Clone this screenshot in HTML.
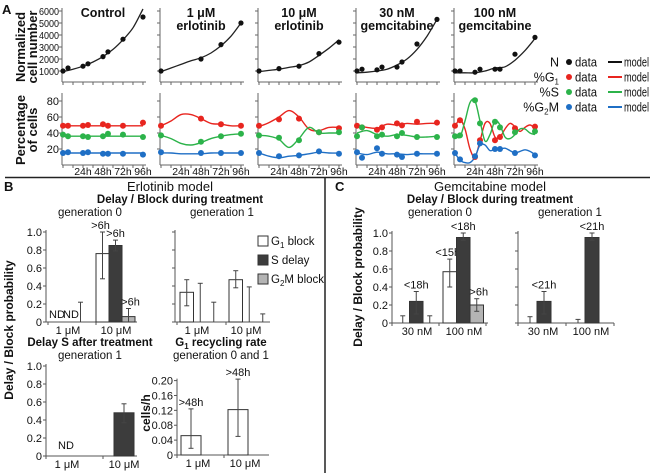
<!DOCTYPE html>
<html><head><meta charset="utf-8">
<style>
html,body{margin:0;padding:0;background:#fff;}
svg{display:block;font-family:"Liberation Sans",Arial,sans-serif;}
</style></head>
<body>
<svg id="fig" width="650" height="473" viewBox="0 0 650 473" xmlns="http://www.w3.org/2000/svg"></svg>
<script>
// ---------- Panel A data ----------
const panelTitles1 = ["Control","1 \u03bcM","10 \u03bcM","30 nM","100 nM"];
const panelTitles2 = ["","erlotinib","erlotinib","gemcitabine","gemcitabine"];
const nTicks = [1000,2000,3000,4000,5000,6000];
const pTicks = [20,40,60,80];
const hourLabels = ["24h","48h","72h","96h"];
const hourTicks = [24,48,72,96];
const modelT8 = [0,12,24,36,48,60,72,84,96];
const modelT16 = [0,6,12,18,24,30,36,42,48,54,60,66,72,78,84,90,96];
// N data
const nTimes = [[0,6,24,30,48,54,72,96],[0,48,72,96],[0,24,48,72,96],[0,6,24,30,48,54,72,96],[0,6,24,30,48,54,72,96]];
const nData = [[1000,1250,1400,1600,2200,2600,3650,5500],[1000,2000,3200,5000],[1000,1200,1400,2450,3400],[1000,1150,1100,1330,1330,1750,3250,5300],[1000,1000,900,1150,1150,1150,2400,3800]];
const nModel = [[950,1150,1400,1750,2200,2800,3600,4600,6200],[950,1250,1550,1850,2100,2500,3100,3900,5000],[950,1050,1150,1300,1450,1750,2300,2900,3600],[850,900,1000,1150,1500,2000,2800,3900,5300],[850,850,850,1000,1250,1350,1900,2700,3700]];
// phase data
const pTimes = [[0,6,24,30,48,54,72,96],[0,48,72,96],[0,24,48,72,96],[0,6,24,30,48,54,72,96],[0,6,24,30,48,54,72,96]];
const g1Data = [[49,49,49,50,51,49,49,53],[49,58,51,49],[49,57,58,41,46],[49,47,44,47,52,49.5,54,53],[49,56,10,31,31,35,46,48]];
const sData = [[38,36,36,35,36,39,38,35],[37,29,36,39],[37,34,31,41,41],[36,47,36,38,36,40,35,35],[36,37,81,52,54,47,41,42]];
const g2Data = [[15,16,15,16,14,14,14,13],[16,15,15,15],[15,11,12,17,14],[16,9,21,14,13,10,14,14],[15,7,11,27,20,20,15,12]];
const g1Model = [[49,49,49,49,49,49,49,49,49],[49,55,63,63,58,52,51,49,49],[48,53,60,68,60,45,43,47,47],[50,47,46,51,50,52,51,52,52],[48,57,45,20,10,30,52,52,35,35,45,52,48,42,47,50,46]];
const sModel = [[36,36,36,36,36,36,36,36,36],[37,33,27,25,28,33,36,38,39],[37,36,32,22,33,47,40,40,40],[40,43,38,36,38,37,35,35,36],[37,35,55,78,80,55,30,38,55,50,35,33,38,45,45,40,38]];
const g2Model = [[15,15,15,15,15,15,15,15,15],[15,15,14,14,14,15,15,15,15],[15,11,9,11,12,14,16,15,15],[15,13,16,14,14,13,14,14,14],[15,6,3,3,10,25,25,18,20,20,21,18,15,17,19,17,13]];

// ---------- Panel B data ----------
const bGroups = ["1 \u03bcM","10 \u03bcM"];
const bG0G1 = [0,0.76], bG0G1lo=[0,0.48], bG0G1hi=[0,1.0];
const bG0S = [0,0.85], bG0Slo=[0,0.79], bG0Shi=[0,0.91];
const bG0G2 = [0,0.06], bG0G2lo=[0,0], bG0G2hi=[0.22,0.15];
const bG1G1 = [0.33,0.47], bG1G1lo=[0.18,0.38], bG1G1hi=[0.47,0.57];
const bG1S = [0,0], bG1Slo=[0,0], bG1Shi=[0.43,0.39];
const bG1G2 = [0,0], bG1G2lo=[0,0], bG1G2hi=[0.22,0.09];
const bDelayS = [0,0.48], bDelaySlo=[0,0.37], bDelayShi=[0,0.58];
const bRecyc = [0.052,0.122], bRecycLo=[0.018,0.05], bRecycHi=[0.124,0.204];
const probTicks = [0,0.2,0.4,0.6,0.8,1.0];
const recycTicks = [0,0.04,0.08,0.12,0.16,0.20];
// ---------- Panel C data ----------
const cGroups = ["30 nM","100 nM"];
const cG0G1 = [0,0.57], cG0G1lo=[0,0.40], cG0G1hi=[0.08,0.71];
const cG0S = [0.24,0.95], cG0Slo=[0.10,0.92], cG0Shi=[0.35,1.0];
const cG0G2 = [0,0.20], cG0G2lo=[0,0.13], cG0G2hi=[0.08,0.27];
const cG1G1 = [0,0], cG1G1lo=[0,0], cG1G1hi=[0.07,0.04];
const cG1S = [0.24,0.95], cG1Slo=[0.10,0.92], cG1Shi=[0.35,1.0];

const svg = document.getElementById('fig');
const NS = "http://www.w3.org/2000/svg";
function mk(tag, attrs, name, parent){
  const el = document.createElementNS(NS, tag);
  for (const k in attrs) el.setAttribute(k, attrs[k]);
  
  
  (parent||svg).appendChild(el);
  return el;
}
function line(x1,y1,x2,y2,name,stroke,w,p){ return mk('line',{x1:x1,y1:y1,x2:x2,y2:y2,stroke:stroke||'#444','stroke-width':w||1},name,p); }
function txt(x,y,s,name,opt,p){
  opt=opt||{};
  const t = mk('text',{x:x,y:y,'font-size':opt.size||11,'text-anchor':opt.anchor||'middle','font-weight':opt.bold?'bold':'normal',fill:opt.fill||'#111'},name,p);
  if(opt.len){ t.setAttribute('textLength',opt.len); t.setAttribute('lengthAdjust','spacingAndGlyphs'); }
  if(opt.rot) t.setAttribute('transform','rotate(-90 '+x+' '+y+')');
  if(opt.html) t.innerHTML = s; else t.textContent = s;
  return t;
}
function smooth(pts){
  let d = 'M'+pts[0][0]+','+pts[0][1];
  for(let i=0;i<pts.length-1;i++){
    const p0=pts[Math.max(i-1,0)],p1=pts[i],p2=pts[i+1],p3=pts[Math.min(i+2,pts.length-1)];
    const c1x=p1[0]+(p2[0]-p0[0])/6,c1y=p1[1]+(p2[1]-p0[1])/6;
    const c2x=p2[0]-(p3[0]-p1[0])/6,c2y=p2[1]-(p3[1]-p1[1])/6;
    d+=' C'+c1x.toFixed(1)+','+c1y.toFixed(1)+' '+c2x.toFixed(1)+','+c2y.toFixed(1)+' '+p2[0].toFixed(1)+','+p2[1].toFixed(1);
  }
  return d;
}

// ---------- Panel A ----------
txt(2,14,'A','panel-a-label',{size:13,bold:true,anchor:'start'});
const axX = [62,160,258,356,454];
const RED='#e8251f', GRN='#2cb34a', BLU='#1f6fc5';
function xT(i,t){ return axX[i]+1+t*0.833; }
function yN(v){ return 83 - v*0.012; }
function yP(v){ return 165 - v*0.8; }
for(let i=0;i<5;i++){
  const g = mk('g',{},'panel-a-'+i);
  txt(axX[i]+41,17,panelTitles1[i],'panel-title',{size:12.5,bold:true},g);
  if(panelTitles2[i]) txt(axX[i]+41,30,panelTitles2[i],'panel-subtitle',{size:12.5,bold:true},g);
  line(axX[i],8,axX[i],82,'n-y-axis','#666',1,g);
  line(axX[i],82,axX[i]+84,82,'n-x-axis','#666',1,g);
  nTicks.forEach(v=>{ line(axX[i]-3,yN(v),axX[i],yN(v),'n-y-tick','#666',1,g); if(i===0) txt(59,yN(v)+4,String(v),'n-tick-label',{size:10.5,anchor:'end',len:20},g); });
  line(axX[i],93,axX[i],165,'p-y-axis','#666',1,g);
  line(axX[i],165,axX[i]+84,165,'p-x-axis','#666',1,g);
  pTicks.forEach(v=>{ line(axX[i]-3,yP(v),axX[i],yP(v),'p-y-tick','#666',1,g); if(i===0) txt(59,yP(v)+4,String(v),'p-tick-label',{size:11,anchor:'end'},g); });
  for(let t=0;t<=96;t+=12){ line(xT(i,t),82,xT(i,t),85,'n-x-tick','#666',1,g); line(xT(i,t),165,xT(i,t),168,'p-x-tick','#666',1,g); }
  hourTicks.forEach((t,k)=>{ txt(xT(i,t),175,hourLabels[k],'hour-label',{size:10.5},g); });
  const mt = nModel[i].length===9?modelT8:modelT16;
  mk('path',{d:smooth(nModel[i].map((v,k)=>[xT(i,mt[k]),Math.max(yN(v),9)])),fill:'none',stroke:'#222','stroke-width':1.3},'n-model-line',g);
  nData[i].forEach((v,k)=>{ mk('circle',{cx:xT(i,nTimes[i][k]),cy:yN(v),r:2.6,fill:'#111'},'n-data-point',g); });
  [[g1Model,RED,'g1'],[sModel,GRN,'s'],[g2Model,BLU,'g2m']].forEach(([M,c,nm])=>{
    const m = M[i], tt = m.length===9?modelT8:modelT16;
    mk('path',{d:smooth(m.map((v,k)=>[xT(i,tt[k]),yP(v)])),fill:'none',stroke:c,'stroke-width':1.4},nm+'-model-line',g);
  });
  [[g1Data,RED,'g1'],[sData,GRN,'s'],[g2Data,BLU,'g2m']].forEach(([D,c,nm])=>{
    D[i].forEach((v,k)=>{ mk('circle',{cx:xT(i,pTimes[i][k]),cy:yP(v),r:3,fill:c},nm+'-data-point',g); });
  });
}
txt(25,47,'Normalized','n-y-title-1',{size:13,bold:true,rot:true});
txt(37,47,'cell number','n-y-title-2',{size:13,bold:true,rot:true});
txt(25,130,'Percentage','p-y-title-1',{size:13,bold:true,rot:true});
txt(37,130,'of cells','p-y-title-2',{size:13,bold:true,rot:true});
// legend
const legLabels = ['N','%G<tspan font-size="8" dy="3">1</tspan>','%S','%G<tspan font-size="8" dy="3">2</tspan><tspan dy="-3">M</tspan>'];
const legColors = ['#111',RED,GRN,BLU];
const legY = [62,77,92,107];
legLabels.forEach((l,k)=>{
  const g = mk('g',{},'legend-entry');
  txt(559,legY[k]+4.5,l,'legend-label',{size:12.5,anchor:'end',html:true},g);
  mk('circle',{cx:569,cy:legY[k],r:3,fill:legColors[k]},'legend-dot',g);
  txt(575,legY[k]+4.5,'data','legend-data-text',{size:12.5,anchor:'start',len:22},g);
  line(608,legY[k],622,legY[k],'legend-line',legColors[k],2,g);
  txt(624,legY[k]+4.5,'model','legend-model-text',{size:12.5,anchor:'start',len:25},g);
});
line(5,177.5,650,177.5,'horizontal-divider','#222',1.5);
line(325,178,325,473,'vertical-divider','#222',1.5);

// ---------- bar chart helper ----------
const FILL = {w:'#ffffff',d:'#3c3c3c',g:'#b4b4b4'};
function barChart(c){
  const g = mk('g',{},c.name);
  const y = v => c.y0 - v*c.scale;
  line(c.ax,y(c.ticks[c.ticks.length-1])-2,c.ax,c.y0,'y-axis','#555',1,g);
  line(c.ax,c.y0,c.ax+c.width,c.y0,'x-axis','#555',1,g);
  c.ticks.forEach(t=>{ line(c.ax-3,y(t),c.ax,y(t),'y-tick','#555',1,g); if(c.labels) txt(c.ax-4,y(t)+4,c.fmt(t),'y-tick-label',{size:11,anchor:'end'},g); });
  for(let k=0;k<=c.groups.length;k++){ const x=c.ax+c.tickPad+k*c.gap; if(x<=c.ax+c.width) line(x,c.y0,x,c.y0+3,'x-tick','#555',1,g); }
  c.groups.forEach((gn,k)=>{ txt(c.ax+c.labPad+k*c.gap,c.y0+12,gn,'x-tick-label',{size:11},g); });
  c.series.forEach((s,si)=>{
    s.v.forEach((v,k)=>{
      const x = c.ax+c.pad+k*c.gap+si*c.bw;
      if(v>0) mk('rect',{x:x,y:y(v),width:c.bw,height:v*c.scale,fill:FILL[s.f],stroke:'#333','stroke-width':1},'bar-'+s.n,g);
      const cx = x+c.bw/2;
      if(s.hi[k]>s.lo[k]){
        line(cx,y(s.lo[k]),cx,y(s.hi[k]),'error-bar','#444',1,g);
        line(cx-2.5,y(s.hi[k]),cx+2.5,y(s.hi[k]),'error-cap','#444',1,g);
        if(s.lo[k]>0) line(cx-2.5,y(s.lo[k]),cx+2.5,y(s.lo[k]),'error-cap','#444',1,g);
      }
      if(s.ann && s.ann[k]) txt(cx+(s.annDx||0),y(Math.max(s.hi[k],v))-3,s.ann[k],'duration-label',{size:11},g);
    });
  });
  return g;
}
const pf = t => t===0?'0':t.toFixed(1);

// ---------- Panel B ----------
txt(4,191,'B','panel-b-label',{size:13,bold:true,anchor:'start'});
txt(170,191,'Erlotinib model','b-title',{size:13});
txt(180,203,'Delay / Block during treatment','b-subtitle',{size:11.5,bold:true});
txt(90,216,'generation 0','b-gen0-title',{size:11.5});
txt(222,216,'generation 1','b-gen1-title',{size:11.5});
barChart({name:'b-gen0-chart',ax:46,y0:322,scale:90,ticks:probTicks,labels:true,fmt:pf,width:91,pad:2,tickPad:2,labPad:22,gap:48,bw:13,groups:bGroups,
  series:[{n:'g1-block',f:'w',v:bG0G1,lo:bG0G1lo,hi:bG0G1hi,ann:['','>6h'],annDx:-2},{n:'s-delay',f:'d',v:bG0S,lo:bG0Slo,hi:bG0Shi,ann:['','>6h']},{n:'g2m-block',f:'g',v:bG0G2,lo:bG0G2lo,hi:bG0G2hi,ann:['','>6h'],annDx:2}]});
txt(57,318,'ND','nd-label',{size:11});
txt(71,318,'ND','nd-label',{size:11});
barChart({name:'b-gen1-chart',ax:175,y0:322,scale:90,ticks:probTicks,labels:false,fmt:pf,width:95,pad:5,tickPad:2,labPad:22,gap:49,bw:13.5,groups:bGroups,
  series:[{n:'g1-block',f:'w',v:bG1G1,lo:bG1G1lo,hi:bG1G1hi},{n:'s-delay',f:'d',v:bG1S,lo:bG1Slo,hi:bG1Shi},{n:'g2m-block',f:'g',v:bG1G2,lo:bG1G2lo,hi:bG1G2hi}]});
const bLegText = ['G<tspan font-size="8" dy="3">1</tspan><tspan dy="-3"> block</tspan>','S delay','G<tspan font-size="8" dy="3">2</tspan><tspan dy="-3">M block</tspan>'];
const bLegFill = ['w','d','g'];
bLegText.forEach((t,k)=>{
  const g = mk('g',{},'b-legend-entry');
  mk('rect',{x:258,y:236+k*19,width:10,height:10,fill:FILL[bLegFill[k]],stroke:'#333'},'legend-swatch',g);
  txt(271,245+k*19,t,'legend-text',{size:11.5,anchor:'start',html:true},g);
});
txt(13,330,'Delay / Block probability','b-y-title',{size:12,bold:true,rot:true});
txt(90,346,'Delay S after treatment','b-delay-s-title',{size:11.5,bold:true});
txt(90,359,'generation 1','b-delay-s-subtitle',{size:11.5});
barChart({name:'b-delay-s-chart',ax:46,y0:456,scale:90,ticks:probTicks,labels:true,fmt:pf,width:91,pad:11,tickPad:0,labPad:21,gap:57,bw:20,groups:bGroups,
  series:[{n:'s-delay',f:'d',v:bDelayS,lo:bDelaySlo,hi:bDelayShi}]});
txt(66,449,'ND','nd-label',{size:11});
txt(221,346,'G<tspan font-size="8" dy="3">1</tspan><tspan dy="-3"> recycling rate</tspan>','b-recycling-title',{size:11.5,bold:true,html:true});
txt(221,359,'generation 0 and 1','b-recycling-subtitle',{size:11.5});
barChart({name:'b-recycling-chart',ax:177,y0:455,scale:372,ticks:recycTicks,labels:true,fmt:t=>t===0?'0':t.toFixed(2),width:92,pad:4,tickPad:0,labPad:21,gap:47,bw:20,groups:bGroups,
  series:[{n:'g1-recycling',f:'w',v:bRecyc,lo:bRecycLo,hi:bRecycHi,ann:['>48h','>48h']}]});
txt(150,413,'cells/h','recycling-y-title',{size:12,bold:true,rot:true});

// ---------- Panel C ----------
txt(335,191,'C','panel-c-label',{size:13,bold:true,anchor:'start'});
txt(490,191,'Gemcitabine model','c-title',{size:13});
txt(490,203,'Delay / Block during treatment','c-subtitle',{size:11.5,bold:true});
txt(440,216,'generation 0','c-gen0-title',{size:11.5});
txt(570,216,'generation 1','c-gen1-title',{size:11.5});
barChart({name:'c-gen0-chart',ax:392,y0:323,scale:90,ticks:probTicks,labels:true,fmt:pf,width:96,pad:4,tickPad:0,labPad:25,gap:47,bw:13.5,groups:cGroups,
  series:[{n:'g1-block',f:'w',v:cG0G1,lo:cG0G1lo,hi:cG0G1hi,ann:['','<15h'],annDx:-2},{n:'s-delay',f:'d',v:cG0S,lo:cG0Slo,hi:cG0Shi,ann:['<18h','<18h']},{n:'g2m-block',f:'g',v:cG0G2,lo:cG0G2lo,hi:cG0G2hi,ann:['','>6h'],annDx:2}]});
barChart({name:'c-gen1-chart',ax:518,y0:323,scale:90,ticks:probTicks,labels:false,fmt:pf,width:96,pad:5,tickPad:0,labPad:25,gap:48,bw:14,groups:cGroups,
  series:[{n:'g1-block',f:'w',v:cG1G1,lo:cG1G1lo,hi:cG1G1hi},{n:'s-delay',f:'d',v:cG1S,lo:cG1Slo,hi:cG1Shi,ann:['<21h','<21h']}]});
txt(362,277,'Delay / Block probability','c-y-title',{size:12,bold:true,rot:true});
</script>
</body></html>
